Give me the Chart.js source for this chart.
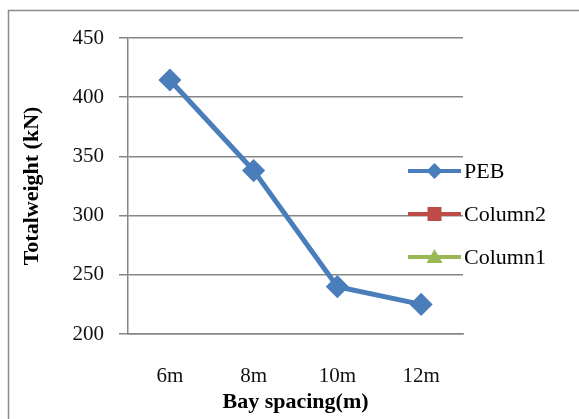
<!DOCTYPE html>
<html>
<head>
<meta charset="utf-8">
<script src="https://cdn.jsdelivr.net/npm/chart.js@4"></script>
<style>
    html, body { margin: 0; padding: 0; background: #fff; }
    #wrap { width: 579px; height: 419px; position: relative; }
</style>
</head>
<body>
<div id="wrap"><canvas id="weightChart" width="579" height="419"></canvas></div>
<script>
// data
const bayLabels = ['6m', '8m', '10m', '12m'];
const pebWeight = [414.5, 338, 240, 225];
const column2 = [null, null, null, null];
const column1 = [null, null, null, null];
const yTicks = [200, 250, 300, 350, 400, 450];

const serif = '"Liberation Serif", "Times New Roman", serif';

// outer frame of the chart object (clipped at right and bottom)
const framePlugin = {
    id: 'frame',
    beforeDraw(chart) {
        const ctx = chart.ctx;
        ctx.save();
        ctx.strokeStyle = '#8c8c8c';
        ctx.lineWidth = 1.5;
        ctx.beginPath();
        ctx.moveTo(8.5, chart.height);
        ctx.lineTo(8.5, 10.5);
        ctx.lineTo(chart.width, 10.5);
        ctx.stroke();
        ctx.restore();
    }
};

// excel style legend sitting over the right of the plot
const legendPlugin = {
    id: 'sideLegend',
    afterDraw(chart) {
        const ctx = chart.ctx;
        const x0 = 408, x1 = 461;
        let y = 171;
        ctx.save();
        chart.data.datasets.forEach((ds) => {
            ctx.strokeStyle = ds.borderColor;
            ctx.lineWidth = 4;
            ctx.beginPath();
            ctx.moveTo(x0, y);
            ctx.lineTo(x1, y);
            ctx.stroke();

            const cx = (x0 + x1) / 2;
            ctx.fillStyle = ds.pointBackgroundColor;
            ctx.beginPath();
            if (ds.pointStyle === 'rectRot') {
                ctx.moveTo(cx, y - 8);
                ctx.lineTo(cx + 8, y);
                ctx.lineTo(cx, y + 8);
                ctx.lineTo(cx - 8, y);
            } else if (ds.pointStyle === 'rect') {
                ctx.rect(cx - 7, y - 7, 14, 14);
            } else {
                ctx.moveTo(cx, y - 8);
                ctx.lineTo(cx + 8, y + 6);
                ctx.lineTo(cx - 8, y + 6);
            }
            ctx.closePath();
            ctx.fill();

            ctx.fillStyle = '#000';
            ctx.font = '22px ' + serif;
            ctx.textBaseline = 'middle';
            ctx.textAlign = 'left';
            ctx.fillText(ds.label, x1 + 3, y + 1);
            y += 43;
        });
        ctx.restore();
    }
};

const ctx = document.getElementById('weightChart').getContext('2d');
const chart = new Chart(ctx, {
    type: 'line',
    data: {
        labels: bayLabels,
        datasets: [{
            label: 'PEB',
            data: pebWeight,
            borderColor: '#4a7ebb',
            backgroundColor: '#4a7ebb',
            pointBackgroundColor: '#4a7ebb',
            pointBorderColor: '#4a7ebb',
            pointStyle: 'rectRot',
            pointRadius: 8,
            borderWidth: 5,
            tension: 0
        }, {
            label: 'Column2',
            data: column2,
            borderColor: '#be4b48',
            pointBackgroundColor: '#be4b48',
            pointStyle: 'rect'
        }, {
            label: 'Column1',
            data: column1,
            borderColor: '#98b954',
            pointBackgroundColor: '#98b954',
            pointStyle: 'triangle'
        }]
    },
    options: {
        responsive: false,
        animation: false,
        layout: {
            padding: { left: 0, right: 116, top: 38, bottom: 0 }
        },
        plugins: {
            legend: { display: false },
            tooltip: { enabled: false }
        },
        scales: {
            x: {
                offset: true,
                afterFit: (scale) => { scale.height = 85; },
                grid: { display: false, drawTicks: false },
                border: { display: true, color: '#868686', width: 1.5 },
                ticks: {
                    color: '#111',
                    padding: 30,
                    font: { family: serif, size: 21 }
                },
                title: {
                    display: true,
                    text: 'Bay spacing(m)',
                    color: '#000',
                    padding: { top: 0, bottom: 3 },
                    font: { family: serif, size: 22, weight: 'bold' }
                }
            },
            y: {
                min: 200,
                max: 450,
                afterFit: (scale) => { scale.width = 128; },
                afterBuildTicks: (scale) => {
                    scale.ticks = yTicks.map(v => ({ value: v }));
                },
                grid: {
                    color: '#868686',
                    lineWidth: 1.5,
                    tickLength: 9
                },
                border: { display: true, color: '#868686', width: 1.5 },
                ticks: {
                    color: '#111',
                    padding: 15,
                    font: { family: serif, size: 21 }
                },
                title: {
                    display: true,
                    text: 'Totalweight (kN)',
                    color: '#000',
                    padding: { top: 19, bottom: 0 },
                    font: { family: serif, size: 22, weight: 'bold' }
                }
            }
        }
    },
    plugins: [framePlugin, legendPlugin]
});
</script>
</body>
</html>
